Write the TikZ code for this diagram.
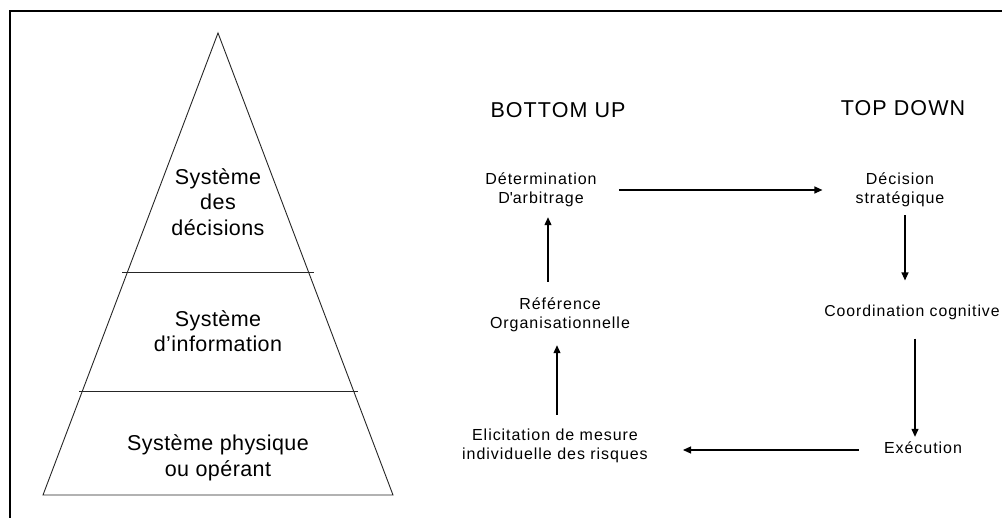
\documentclass[tikz,border=0pt]{standalone}
\usepackage{fontspec}
\setmainfont{Liberation Sans}
\newfontfamily\labelfamily[LetterSpace=6]{Liberation Sans}
\newfontfamily\titlefamily[LetterSpace=5]{Liberation Sans}
\newfontfamily\levelfamily[LetterSpace=2]{Liberation Sans}
\usetikzlibrary{arrows.meta}
\begin{document}
\begin{tikzpicture}[x=1pt,y=-1pt,
  lbl/.style={font=\labelfamily\fontsize{16}{19}\selectfont, align=center, inner sep=0pt},
  big/.style={font=\titlefamily\fontsize{21.5}{26}\selectfont, align=center, inner sep=0pt},
  lvl/.style={font=\levelfamily\fontsize{21.5}{25.5}\selectfont, align=center, inner sep=0pt},
  arr/.style={-{Triangle[length=8pt,width=7pt]}, line width=1.2pt},
  pyr/.style={draw=black!85, line width=0.9pt}]
\useasboundingbox (0,0) rectangle (1002,518);

% outer frame (top and left edges)
\draw[line width=2.2pt] (10,518) -- (10,11) -- (1002,11);

% pyramid with its three levels
\draw[pyr] (218,33) -- (43,495) -- (393,495) -- cycle;
\draw[pyr] (122,272) -- (314,272);
\draw[pyr] (79,391) -- (358,391);
\node[lvl] (lvl1) at (218,202) {Système\\des\\décisions};
\node[lvl] (lvl2) at (218,331) {Système\\d’information};
\node[lvl] (lvl3) at (218,458) {Système physique\\ou opérant};

% cycle headings
\node[big] (bu) at (558,110) {BOTTOM UP};
\node[big] (td) at (903,108) {TOP DOWN};

% cycle steps
\node[lbl] (det) at (541,190) {Détermination\\D\textquotesingle arbitrage};
\node[lbl] (dec) at (900,190) {Décision\\stratégique};
\node[lbl] (ref) at (560,315) {Référence\\Organisationnelle};
\node[lbl, font=\labelfamily\fontsize{15.8}{19}\selectfont] (coord) at (912,312) {Coordination cognitive};
\node[lbl] (exe) at (923,448) {Exécution};
\node[lbl] (eli) at (555,446) {Elicitation de mesure\\individuelle des risques};

% connectors
\draw[arr, shorten <=22pt, shorten >=33pt] (det.east) -- (dec.west);
\draw[arr, shorten <=8pt, shorten >=24pt] (dec.south -| 905,0) -- (coord.north -| 905,0);
\draw[arr, shorten <=19pt, shorten >=5pt] (coord.south -| 915,0) -- (exe.north -| 915,0);
\draw[arr, shorten <=25pt, shorten >=35pt] (exe.west |- 0,450) -- (eli.east |- 0,450);
\draw[arr, shorten <=14pt, shorten >=13pt] (eli.north -| 557,0) -- (ref.south -| 557,0);
\draw[arr, shorten <=16pt, shorten >=10pt] (ref.north -| 548,0) -- (det.south -| 548,0);
\end{tikzpicture}
\end{document}
